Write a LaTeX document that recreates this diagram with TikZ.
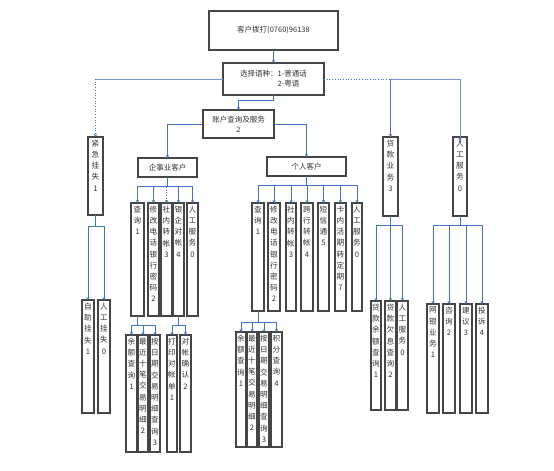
\documentclass[tikz,border=0pt]{standalone}
\usepackage{fontspec}
\setmainfont{Noto Sans CJK SC}
\usetikzlibrary{arrows.meta}
\definecolor{lnblue}{RGB}{68,114,196}
\definecolor{lnlight}{RGB}{120,150,215}
\definecolor{boxgray}{RGB}{70,70,70}
\tikzset{
  vbx/.style={draw=boxgray, line width=1.1pt, inner sep=0pt, outer sep=0pt, text=black!80},
  hbx/.style={draw=boxgray, line width=1.1pt, inner sep=0pt, outer sep=0pt, text=black!80, font=\fontsize{7.5}{10}\selectfont},
  ln/.style={draw=lnblue, line width=0.7pt},
  lnl/.style={draw=lnlight, line width=0.7pt},
  arr/.style={ln, -{Stealth[length=3pt,width=3.2pt]}}
}
\newcommand\VB[6]{\node[vbx] (#1) at ({(#2+#4)/2},{(#3+#5)/2}) {\parbox[c][\dimexpr#5pt-#3pt\relax][t]{\dimexpr#4pt-#2pt\relax}{\centering\fontsize{7.6}{11.2}\selectfont\vspace*{3pt}#6\par}};}
\newcommand\HB[6]{\node[hbx, minimum width={#4pt-#2pt}, minimum height={#5pt-#3pt}, align=center] (#1) at ({(#2+#4)/2},{(#3+#5)/2}) {#6};}
\begin{document}
\begin{tikzpicture}[x=1pt,y=-1pt]
\fill[white] (0,0) rectangle (554,471);
\useasboundingbox (0,0) rectangle (554,471);
% horizontal boxes
\HB{top}{209}{11}{338}{50}{客户拨打(0760)96138}
\node[hbx, minimum width=101pt, minimum height=32pt, align=left] (sel) at (273.5,79) {选择语种：1-普通话\\\hphantom{选择语种：}2-粤语};
\HB{acct}{203}{110}{274}{138}{账户查询及服务\\2}
\HB{ent}{138}{158}{197}{177}{企事业客户}
\HB{per}{267}{157}{346}{176}{个人客户}
% level 1 vertical
\VB{jj}{88}{137}{103}{215}{紧\\急\\挂\\失\\1}
\VB{dk}{383}{137}{398}{216}{贷\\款\\业\\务\\3}
\VB{rg}{453}{137}{467}{216}{人\\工\\服\\务\\0}
% emergency children
\VB{zz}{82}{300}{94}{413}{自\\助\\挂\\失\\1}
\VB{rgs}{98}{300}{110}{413}{人\\工\\挂\\失\\0}
% enterprise
\VB{e1}{131}{203}{144}{316}{查\\询\\1}
\VB{e2}{148}{203}{159}{316}{修\\改\\电\\话\\银\\行\\密\\码\\2}
\VB{e3}{161}{203}{172}{316}{社\\内\\转\\帐\\3}
\VB{e4}{173}{203}{184}{316}{银\\企\\对\\帐\\4}
\VB{e5}{187}{203}{198}{316}{人\\工\\服\\务\\0}
\VB{e11}{126}{335}{137}{452}{余\\额\\查\\询\\1}
\VB{e12}{138}{335}{148}{452}{最\\近\\十\\笔\\交\\易\\明\\细\\2}
\VB{e13}{150}{335}{160}{452}{按\\日\\期\\交\\易\\明\\细\\查\\询\\3}
\VB{e41}{167}{335}{177}{452}{打\\印\\对\\帐\\单\\1}
\VB{e42}{180}{335}{191}{452}{对\\帐\\确\\认\\2}
% personal
\VB{p1}{252}{203}{264}{311}{查\\询\\1}
\VB{p2}{268}{203}{280}{311}{修\\改\\电\\话\\银\\行\\密\\码\\2}
\VB{p3}{286}{203}{296}{311}{社\\内\\转\\帐\\3}
\VB{p4}{301}{203}{313}{311}{跨\\行\\转\\帐\\4}
\VB{p5}{318}{203}{329}{311}{短\\信\\通\\5}
\VB{p6}{335}{203}{346}{311}{卡\\内\\活\\期\\转\\定\\期\\7}
\VB{p7}{352}{203}{362}{311}{人\\工\\服\\务\\0}
\VB{p11}{236}{332}{246}{447}{余\\额\\查\\询\\1}
\VB{p12}{247}{332}{257}{447}{最\\近\\十\\笔\\交\\易\\明\\细\\2}
\VB{p13}{259}{332}{269}{447}{按\\日\\期\\交\\易\\明\\细\\查\\询\\3}
\VB{p14}{271}{332}{282}{447}{积\\分\\查\\询\\4}
% loans
\VB{d1}{371}{301}{381}{410}{贷\\款\\余\\额\\查\\询\\1}
\VB{d2}{385}{301}{396}{410}{贷\\款\\欠\\息\\查\\询\\2}
\VB{d3}{397}{301}{408}{410}{人\\工\\服\\务\\0}
% service
\VB{s1}{427}{304}{439}{413}{网\\银\\业\\务\\1}
\VB{s2}{443}{304}{455}{413}{咨\\询\\2}
\VB{s3}{460}{304}{472}{413}{建\\议\\3}
\VB{s4}{476}{304}{488}{413}{投\\诉\\4}
% connectors
\draw[arr] (top.south) -- (sel.north);
\draw[arr] (sel.south) -- ++(0,5) -| (acct.north);
\draw[arr] (acct.west) -| (ent.north);
\draw[arr] (acct.east) -| (per.north);
\coordinate (jc) at (jj.north |- sel.west);
\draw[lnl] (sel.west) -- (jc);
\draw[arr, dotted] (jc) -- (jj.north);
\coordinate (dc) at (dk.north |- sel.east);
\draw[ln, dotted] (sel.east) -- (dc);
\draw[arr] (dc) -- (dk.north);
\draw[lnl] (dc) -| ([yshift=-6pt]rg.north);
\draw[arr] ([yshift=-6pt]rg.north) -- (rg.north);
\foreach \c in {zz,rgs} \draw[arr] (jj.south) -- ++(0,11) -| (\c.north);
\foreach \c in {e1,e2,e4,e5} \draw[arr] (ent.south) -- ++(0,9) -| (\c.north);
\draw[arr, dotted] (ent.south) -- ++(0,9) -| (e3.north);
\foreach \c in {e11,e12,e13} \draw[arr] (e1.south) -- ++(0,9) -| (\c.north);
\foreach \c in {e41,e42} \draw[arr] (e4.south) -- ++(0,9) -| (\c.north);
\foreach \c in {p1,p2,p3,p4,p5,p6,p7} \draw[arr] (per.south) -- ++(0,9) -| (\c.north);
\foreach \c in {p11,p12,p13,p14} \draw[arr] (p1.south) -- ++(0,11) -| (\c.north);
\draw[ln] (dk.south) -- ++(0,9) -| (d1.north);
\draw[arr, dotted] (d1.north |- 0,225) -- (d1.north);
\foreach \c in {d2,d3} \draw[arr] (dk.south) -- ++(0,9) -| (\c.north);
\foreach \c in {s1,s2,s3,s4} \draw[arr] (rg.south) -- ++(0,9) -| (\c.north);
\end{tikzpicture}
\end{document}
